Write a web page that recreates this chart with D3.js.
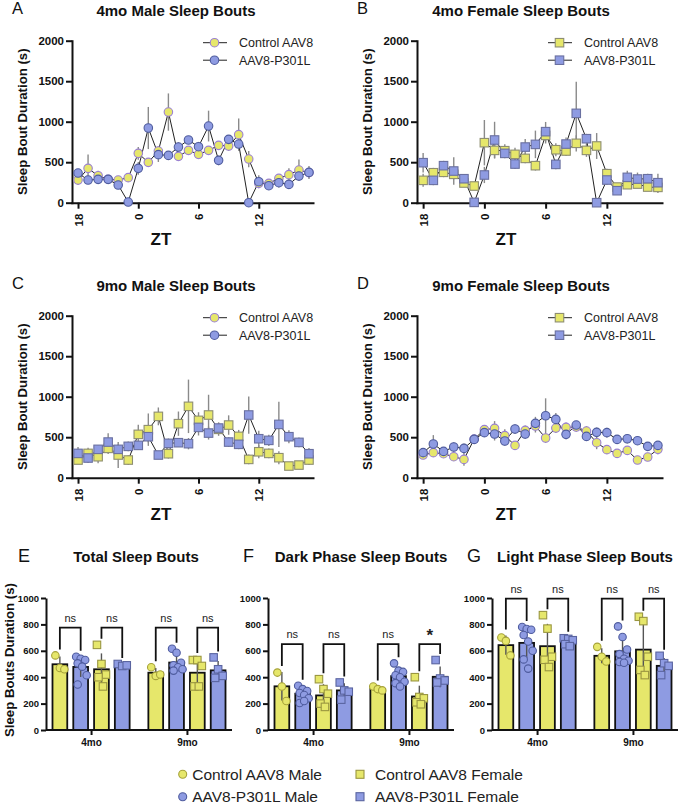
<!DOCTYPE html>
<html>
<head>
<meta charset="utf-8">
<script src="https://cdn.jsdelivr.net/npm/d3@7"></script>
<style>
  body { margin: 0; background: #fff; }
  svg { display: block; font-family: "Liberation Sans", Arial, sans-serif; }
</style>
</head>
<body>
<svg id="chart" width="685" height="804"></svg>
<script>
// ZT hours in the order recorded (starts at ZT18)
const hours = [18, 19, 20, 21, 22, 23, 0, 1, 2, 3, 4, 5, 6, 7, 8, 9, 10, 11, 12, 13, 14, 15, 16, 17];
const hourTicks = [18, 0, 6, 12];
const yTicksLine = [0, 500, 1000, 1500, 2000];

// 4mo male
const ctrl4Male = [280, 424, 333, 290, 280, 309, 609, 498, 638, 1119, 572, 646, 597, 646, 708, 700, 840, 539, 239, 239, 300, 346, 403, 370];
const ctrl4MaleErr = [60, 170, 60, 40, 40, 30, 80, 40, 60, 230, 40, 40, 40, 40, 50, 60, 200, 100, 50, 40, 40, 80, 130, 60];
const tau4Male = [366, 280, 288, 288, 218, 8, 424, 922, 593, 584, 687, 774, 691, 946, 523, 782, 724, 0, 259, 210, 247, 226, 329, 374];
const tau4MaleErr = [50, 40, 40, 40, 40, 10, 80, 260, 90, 40, 60, 40, 60, 190, 60, 40, 40, 10, 80, 40, 60, 50, 60, 80];

// 4mo female
const ctrl4Female = [276, 370, 375, 350, 243, 206, 741, 646, 642, 597, 547, 457, 831, 654, 638, 733, 646, 700, 358, 193, 222, 230, 193, 189];
const ctrl4FemaleErr = [80, 60, 60, 60, 40, 40, 280, 100, 80, 80, 60, 60, 100, 80, 60, 100, 80, 160, 60, 40, 40, 40, 50, 70];
const tau4Female = [494, 276, 457, 391, 296, 4, 342, 774, 609, 477, 687, 720, 877, 473, 724, 1103, 790, 0, 280, 148, 313, 292, 296, 247];
const tau4FemaleErr = [120, 60, 60, 170, 40, 10, 100, 225, 60, 60, 100, 170, 120, 60, 80, 390, 60, 10, 60, 40, 80, 80, 60, 110];

// 9mo male
const ctrl9Male = [218, 300, 259, 362, 280, 218, 535, 593, 757, 296, 667, 881, 708, 774, 597, 650, 510, 226, 320, 300, 247, 144, 156, 218];
const ctrl9MaleErr = [50, 70, 80, 70, 160, 60, 120, 200, 110, 60, 150, 330, 100, 250, 80, 120, 80, 60, 80, 60, 80, 50, 50, 60];
const tau9Male = [300, 243, 350, 440, 350, 387, 399, 506, 280, 424, 432, 420, 621, 551, 613, 440, 412, 774, 481, 461, 658, 506, 436, 296];
const tau9MaleErr = [80, 60, 50, 110, 60, 60, 50, 70, 50, 60, 50, 70, 100, 80, 70, 60, 60, 230, 100, 70, 280, 80, 60, 70];

// 9mo female
const ctrl9Female = [280, 309, 296, 259, 226, 477, 593, 609, 519, 399, 584, 638, 490, 613, 621, 626, 576, 432, 346, 300, 337, 218, 255, 350];
const ctrl9FemaleErr = [40, 40, 40, 50, 80, 60, 40, 90, 80, 40, 60, 80, 60, 60, 60, 60, 60, 80, 50, 40, 40, 40, 40, 60];
const tau9Female = [309, 416, 325, 379, 362, 473, 556, 539, 453, 601, 539, 671, 765, 720, 535, 650, 510, 560, 556, 473, 481, 457, 387, 399];
const tau9FemaleErr = [40, 110, 40, 60, 60, 40, 40, 80, 60, 60, 60, 80, 215, 80, 60, 50, 50, 60, 60, 50, 60, 50, 40, 40];

// bar panels
const ages = ["4mo", "9mo"];
const groups = ["Control AAV8 Male", "AAV8-P301L Male", "Control AAV8 Female", "AAV8-P301L Female"];
const yTicksBar = [0, 200, 400, 600, 800, 1000];

const totalMeans4 = [498, 478, 460, 491];
const totalMeans9 = [434, 511, 434, 452];
const totalPts4 = [[565, 470, 460], [555, 540, 530, 505, 480, 415, 345], [645, 500, 420, 400, 330], [500, 485, 490]];
const totalPts9 = [[475, 410, 420], [615, 585, 510, 490, 475, 460, 450], [530, 530, 485, 330, 330], [550, 460, 410, 395]];
const totalSig = ["ns", "ns", "ns", "ns"];

const darkMeans4 = [331, 275, 262, 300];
const darkMeans9 = [311, 408, 254, 403];
const darkPts4 = [[435, 330, 220], [335, 310, 295, 280, 265, 240, 205, 220], [385, 310, 275, 200, 175], [360, 300, 290, 230]];
const darkPts9 = [[330, 310, 300], [505, 450, 440, 415, 400, 365, 355, 330], [400, 250, 240, 210, 195], [530, 390, 375, 360]];
const darkSig = ["ns", "ns", "ns", "*"];

const lightMeans4 = [643, 660, 635, 672];
const lightMeans9 = [562, 596, 609, 486];
const lightPts4 = [[701, 675, 565], [780, 765, 760, 720, 670, 600, 535, 465], [870, 768, 555, 532, 477], [695, 690, 680, 650, 635]];
const lightPts9 = [[630, 555, 519], [785, 705, 610, 575, 540, 525, 515, 510], [858, 825, 555, 455, 416], [562, 506, 486, 416]];
const lightSig = ["ns", "ns", "ns", "ns"];

const YELLOW = "#e6e76b";
const BLUE = "#8e9be2";

const svg = d3.select("#chart");
svg.append("rect").attr("width", 685).attr("height", 804).attr("fill", "#fff");

/**
 * Draw a marker (circle or square) into a selection
 */
function marker(sel, shape, x, y, size, fill, stroke) {
  if (shape === "circle") {
    sel.append("circle").attr("cx", x).attr("cy", y).attr("r", size / 2)
      .attr("fill", fill).attr("stroke", stroke).attr("stroke-width", 1.1);
  } else {
    sel.append("rect").attr("x", x - size / 2).attr("y", y - size / 2)
      .attr("width", size).attr("height", size)
      .attr("fill", fill).attr("stroke", stroke).attr("stroke-width", 1.1);
  }
}

function strokeFor(shape, color) {
  if (shape === "circle") return color === YELLOW ? "#9a80d2" : "#4f5c9e";
  return color === YELLOW ? "#8e8e72" : "#6a70a0";
}

const linePanels = [
  { letter: "A", title: "4mo Male Sleep Bouts", ctrl: ctrl4Male, ctrlErr: ctrl4MaleErr, tau: tau4Male, tauErr: tau4MaleErr, shape: "circle", legendShape: "circle", x0: 72, w: 241, yBot: 202.7 },
  { letter: "B", title: "4mo Female Sleep Bouts", ctrl: ctrl4Female, ctrlErr: ctrl4FemaleErr, tau: tau4Female, tauErr: tau4FemaleErr, shape: "square", legendShape: "square", x0: 417, w: 245, yBot: 202.7 },
  { letter: "C", title: "9mo Male Sleep Bouts", ctrl: ctrl9Male, ctrlErr: ctrl9MaleErr, tau: tau9Male, tauErr: tau9MaleErr, shape: "square", legendShape: "circle", x0: 72, w: 241, yBot: 477.7 },
  { letter: "D", title: "9mo Female Sleep Bouts", ctrl: ctrl9Female, ctrlErr: ctrl9FemaleErr, tau: tau9Female, tauErr: tau9FemaleErr, shape: "circle", legendShape: "square", x0: 417, w: 245, yBot: 477.7 }
];

linePanels.forEach(drawLinePanel);

function drawLinePanel(p) {
  const g = svg.append("g");
  const x = d3.scaleLinear().domain([-0.6, 23.4]).range([p.x0, p.x0 + p.w]);
  const y = d3.scaleLinear().domain([0, 2000]).range([p.yBot, p.yBot - 162]);
  const yTop = y(2000);

  // letter + title
  g.append("text").attr("x", p.x0 - 60).attr("y", yTop - 26.5)
    .attr("font-size", 16.5).attr("fill", "#111").text(p.letter);
  g.append("text").attr("x", p.x0 + 104).attr("y", yTop - 24.5)
    .attr("text-anchor", "middle").attr("font-size", 15).attr("font-weight", "bold")
    .attr("fill", "#111").text(p.title);

  // axes
  const yAxis = g.append("g").attr("transform", `translate(${p.x0},0)`)
    .call(d3.axisLeft(y).tickValues(yTicksLine).tickFormat(d3.format("d"))
      .tickSize(6).tickSizeOuter(0));
  yAxis.selectAll("text").attr("font-size", 11.5).attr("font-weight", "bold")
    .attr("fill", "#111").attr("x", -8);
  const xAxis = g.append("g").attr("transform", `translate(0,${p.yBot})`)
    .call(d3.axisBottom(x).tickValues(hourTicks.map((h) => hours.indexOf(h)))
      .tickFormat((i) => hours[i]).tickSize(6).tickSizeOuter(0));
  xAxis.selectAll("text").attr("font-size", 11.5).attr("font-weight", "bold").attr("fill", "#111")
    .attr("transform", "rotate(-90)").attr("x", -11).attr("y", 0).attr("dy", "0.35em")
    .attr("text-anchor", "end");
  [yAxis, xAxis].forEach((a) => {
    a.selectAll("path, line").attr("stroke", "#111").attr("stroke-width", 2);
    a.select(".domain").attr("stroke-linecap", "square");
  });

  g.append("text")
    .attr("transform", `translate(${p.x0 - 50},${(p.yBot + yTop) / 2}) rotate(-90)`)
    .attr("text-anchor", "middle").attr("dy", "0.35em")
    .attr("font-size", 13.2).attr("font-weight", "bold").attr("fill", "#111")
    .text("Sleep Bout Duration (s)");
  g.append("text").attr("x", p.x0 + 89).attr("y", p.yBot + 42)
    .attr("text-anchor", "middle").attr("font-size", 17).attr("font-weight", "bold")
    .attr("fill", "#111").text("ZT");

  // series
  const series = [
    { vals: p.ctrl, err: p.ctrlErr, color: YELLOW },
    { vals: p.tau, err: p.tauErr, color: BLUE }
  ];
  const line = d3.line().x((d, i) => x(i)).y((d) => y(d));
  series.forEach((s) => {
    g.append("g").selectAll("line").data(s.vals).join("line")
      .attr("x1", (d, i) => x(i)).attr("x2", (d, i) => x(i))
      .attr("y1", (d, i) => y(Math.max(0, d - s.err[i])))
      .attr("y2", (d, i) => y(d + s.err[i]))
      .attr("stroke", "#8a8a8a").attr("stroke-width", 1.4);
  });
  series.forEach((s) => {
    g.append("path").datum(s.vals).attr("d", line)
      .attr("fill", "none").attr("stroke", "#222").attr("stroke-width", 1);
  });
  series.forEach((s) => {
    const mg = g.append("g");
    s.vals.forEach((d, i) => marker(mg, p.shape, x(i), y(d), 8.5, s.color, strokeFor(p.shape, s.color)));
  });

  // legend
  const lx = p.x0 + 131;
  ["Control AAV8", "AAV8-P301L"].forEach((name, i) => {
    const ly = yTop + 2 + i * 17.5;
    const color = i === 0 ? YELLOW : BLUE;
    g.append("line").attr("x1", lx).attr("x2", lx + 24).attr("y1", ly).attr("y2", ly)
      .attr("stroke", "#222").attr("stroke-width", 1);
    marker(g, p.legendShape, lx + 11.5, ly, 8.5, color, strokeFor(p.legendShape, color));
    g.append("text").attr("x", lx + 36).attr("y", ly + 4.5)
      .attr("font-size", 12.5).attr("fill", "#222").text(name);
  });
}

// ---------- bar panels ----------
const barPanels = [
  { letter: "E", title: "Total Sleep Bouts", means: [totalMeans4, totalMeans9], pts: [totalPts4, totalPts9], sig: totalSig, bracket: 775, x0: 46, titleDx: 90, letterDx: -28, ylabel: true },
  { letter: "F", title: "Dark Phase Sleep Bouts", means: [darkMeans4, darkMeans9], pts: [darkPts4, darkPts9], sig: darkSig, bracket: 650, x0: 268, titleDx: 93, letterDx: -25 },
  { letter: "G", title: "Light Phase Sleep Bouts", means: [lightMeans4, lightMeans9], pts: [lightPts4, lightPts9], sig: lightSig, bracket: 995, x0: 492, titleDx: 93, letterDx: -25 }
];

const shapes = ["circle", "circle", "square", "square"];
const colors = [YELLOW, BLUE, YELLOW, BLUE];
const ptStroke = ["#a6a23a", "#4f5c9e", "#9a9640", "#5a64a0"];

barPanels.forEach(drawBarPanel);

function drawBarPanel(p) {
  const g = svg.append("g");
  const W = 186;
  const y = d3.scaleLinear().domain([0, 1000]).range([730, 598]);
  const xg = d3.scaleBand().domain(ages).range([p.x0, p.x0 + W])
    .paddingInner(0.1).paddingOuter(0.02);
  const xs = d3.scaleBand().domain(groups).range([0, xg.bandwidth()])
    .paddingInner(0.29).paddingOuter(0.22);

  g.append("text").attr("x", p.x0 + p.letterDx).attr("y", 562)
    .attr("font-size", 18).attr("fill", "#111").text(p.letter);
  g.append("text").attr("x", p.x0 + p.titleDx).attr("y", 562)
    .attr("text-anchor", "middle").attr("font-size", 15).attr("font-weight", "bold")
    .attr("fill", "#111").text(p.title);

  ages.forEach((age, a) => {
    groups.forEach((grp, k) => {
      const cx = xg(age) + xs(grp) + xs.bandwidth() / 2;
      const mean = p.means[a][k];
      const pts = p.pts[a][k];
      const sd = d3.deviation(pts);
      g.append("rect").attr("x", xg(age) + xs(grp)).attr("y", y(mean))
        .attr("width", xs.bandwidth()).attr("height", y(0) - y(mean))
        .attr("fill", colors[k]).attr("stroke", "#111").attr("stroke-width", 1.8);
      g.append("line").attr("x1", cx).attr("x2", cx)
        .attr("y1", y(Math.max(0, mean - sd))).attr("y2", y(mean + sd))
        .attr("stroke", "#555").attr("stroke-width", 1.4);
      const pg = g.append("g");
      pts.forEach((v, i) => {
        const off = ((i % 3) - 1) * 4.5 + (i >= 3 ? 1.5 : 0);
        marker(pg, shapes[k], cx + off, y(v), 7.5, colors[k], ptStroke[k]);
      });
    });

    // significance brackets
    [[0, 1], [2, 3]].forEach(([i1, i2], b) => {
      const xa = xg(age) + xs(groups[i1]) + xs.bandwidth() / 2;
      const xb = xg(age) + xs(groups[i2]) + xs.bandwidth() / 2;
      const top = (k) => {
        const pts = p.pts[a][k];
        return Math.max(d3.max(pts), p.means[a][k] + d3.deviation(pts));
      };
      const by = y(p.bracket);
      const ya = y(top(i1)) - 6;
      const yb = y(top(i2)) - 6;
      g.append("path").attr("d", `M${xa},${ya}V${by}H${xb}V${yb}`)
        .attr("fill", "none").attr("stroke", "#111").attr("stroke-width", 1.8);
      const lab = p.sig[a * 2 + b];
      g.append("text").attr("x", (xa + xb) / 2)
        .attr("y", lab === "*" ? by - 3 : by - 6)
        .attr("text-anchor", "middle")
        .attr("font-size", lab === "*" ? 17 : 11)
        .attr("font-weight", lab === "*" ? "bold" : "normal")
        .attr("fill", "#222").text(lab);
    });
  });

  const yAxis = g.append("g").attr("transform", `translate(${p.x0},0)`)
    .call(d3.axisLeft(y).tickValues(yTicksBar).tickFormat(d3.format("d"))
      .tickSize(5).tickSizeOuter(0));
  yAxis.selectAll("text").attr("font-size", 9.5).attr("font-weight", "bold")
    .attr("fill", "#111").attr("x", -7);
  const xAxis = g.append("g").attr("transform", `translate(0,${y(0)})`)
    .call(d3.axisBottom(d3.scalePoint().domain(ages)
      .range([xg("4mo") + xg.bandwidth() / 2, xg("9mo") + xg.bandwidth() / 2]))
      .tickSize(5).tickSizeOuter(0));
  xAxis.select(".domain").attr("d", `M${p.x0},0H${p.x0 + W}`);
  xAxis.selectAll("text").attr("font-size", 10).attr("font-weight", "bold")
    .attr("fill", "#111").attr("y", 9);
  [yAxis, xAxis].forEach((ax) => {
    ax.selectAll("path, line").attr("stroke", "#111").attr("stroke-width", 2);
  });

  if (p.ylabel) {
    g.append("text").attr("transform", "translate(9,660) rotate(-90)")
      .attr("text-anchor", "middle").attr("dy", "0.35em")
      .attr("font-size", 13.2).attr("font-weight", "bold").attr("fill", "#111")
      .text("Sleep Bouts Duration (s)");
  }
}

// ---------- bottom legend ----------
const legendPos = [[182.7, 774.3], [182.7, 796.7], [360, 774.3], [360, 796.7]];
groups.forEach((name, k) => {
  const [lx, ly] = legendPos[k];
  marker(svg, shapes[k], lx, ly, 8, colors[k], ptStroke[k]);
  svg.append("text").attr("x", lx + (shapes[k] === "circle" ? 9.5 : 15)).attr("y", ly + 5.5)
    .attr("font-size", 15.5).attr("fill", "#222").text(name);
});
</script>
</body>
</html>
